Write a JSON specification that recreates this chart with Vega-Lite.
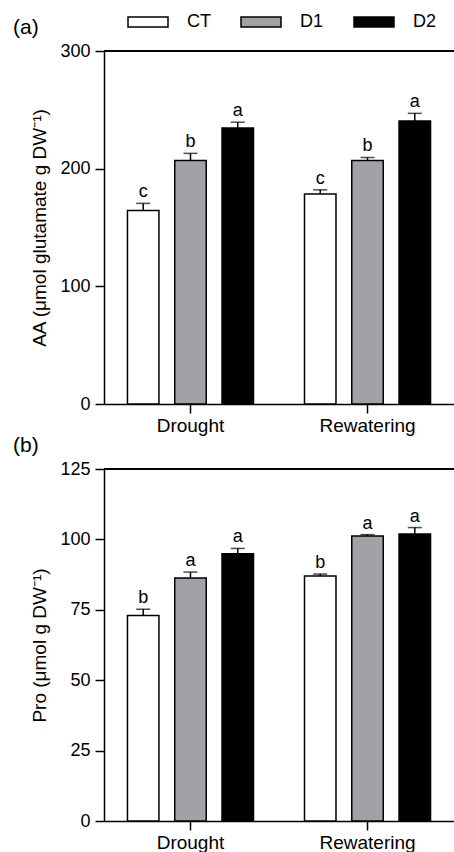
{
  "$schema": "https://vega.github.io/schema/vega-lite/v6.json",
  "padding": {"left": 13, "top": 1, "right": 0, "bottom": 0},
  "background": "white",
  "spacing": 0,
  "config": {
    "font": "Liberation Sans",
    "view": {"stroke": null},
    "axis": {
      "domainColor": "black", "domainWidth": 1.5, "tickColor": "black", "tickWidth": 1.5, "tickSize": 9,
      "labelColor": "black", "labelFontSize": 18, "titleColor": "black", "titleFontSize": 19,
      "titleFontWeight": "normal", "grid": false, "labelFont": "Liberation Sans", "titleFont": "Liberation Sans"
    },
    "title": {"font": "Liberation Sans", "fontSize": 21, "fontWeight": "normal", "color": "black"}
  },
  "datasets": {
    "aa": [
      {"Period": "Drought", "Treatment": "CT", "Mean": 164.5, "Upper": 170.5, "Letter": "c"},
      {"Period": "Drought", "Treatment": "D1", "Mean": 207, "Upper": 213, "Letter": "b"},
      {"Period": "Drought", "Treatment": "D2", "Mean": 234.5, "Upper": 239.5, "Letter": "a"},
      {"Period": "Rewatering", "Treatment": "CT", "Mean": 178.5, "Upper": 182, "Letter": "c"},
      {"Period": "Rewatering", "Treatment": "D1", "Mean": 207, "Upper": 209.5, "Letter": "b"},
      {"Period": "Rewatering", "Treatment": "D2", "Mean": 240.5, "Upper": 247, "Letter": "a"}
    ],
    "pro": [
      {"Period": "Drought", "Treatment": "CT", "Mean": 73, "Upper": 75.2, "Letter": "b"},
      {"Period": "Drought", "Treatment": "D1", "Mean": 86.3, "Upper": 88.4, "Letter": "a"},
      {"Period": "Drought", "Treatment": "D2", "Mean": 94.9, "Upper": 96.8, "Letter": "a"},
      {"Period": "Rewatering", "Treatment": "CT", "Mean": 87, "Upper": 87.7, "Letter": "b"},
      {"Period": "Rewatering", "Treatment": "D1", "Mean": 101.2, "Upper": 101.7, "Letter": "a"},
      {"Period": "Rewatering", "Treatment": "D2", "Mean": 101.9, "Upper": 104.2, "Letter": "a"}
    ]
  },
  "vconcat": [
    {
      "title": {"text": "(a)", "anchor": "start", "frame": "group", "dx": -91, "offset": -13, "baseline": "alphabetic"},
      "width": 350,
      "height": 353,
      "data": {"name": "aa"},
      "layer": [
        {
          "mark": {"type": "bar", "stroke": "black", "strokeWidth": 1.5},
          "encoding": {
            "x": {"field": "Period", "type": "nominal", "sort": ["Drought", "Rewatering"], "scale": {"paddingInner": 0.288, "paddingOuter": 0.1325}, "axis": {"title": null, "labelAngle": 0, "labelFontSize": 19, "labelPadding": 3}},
            "xOffset": {"field": "Treatment", "type": "nominal", "sort": ["CT", "D1", "D2"], "scale": {"paddingInner": 0.334, "paddingOuter": 0}},
            "y": {"field": "Mean", "type": "quantitative", "scale": {"domain": [0, 300], "nice": false}, "axis": {"values": [0, 100, 200, 300], "title": "AA (μmol glutamate g DW⁻¹)", "titlePadding": 10, "labelPadding": 5}},
            "color": {"field": "Treatment", "type": "nominal", "scale": {"domain": ["CT", "D1", "D2"], "range": ["#ffffff", "#a2a1a6", "#000000"]},
              "legend": {"orient": "none", "direction": "horizontal", "columns": 3, "legendX": 23, "legendY": -50, "title": null,
                "symbolType": "M-1,-0.25L1,-0.25L1,0.25L-1,0.25Z", "symbolSize": 1600, "symbolStrokeColor": "black", "symbolStrokeWidth": 1.5,
                "labelFontSize": 18, "labelColor": "black", "labelOffset": 18, "columnPadding": 27, "symbolOpacity": 1, "labelLimit": 100}}
          }
        },
        {
          "mark": {"type": "rule", "color": "black", "strokeWidth": 1.5},
          "encoding": {
            "x": {"field": "Period", "type": "nominal", "sort": ["Drought", "Rewatering"]},
            "xOffset": {"field": "Treatment", "type": "nominal", "sort": ["CT", "D1", "D2"]},
            "y": {"field": "Mean", "type": "quantitative"},
            "y2": {"field": "Upper"}
          }
        },
        {
          "mark": {"type": "tick", "color": "black", "thickness": 1.5, "size": 14},
          "encoding": {
            "x": {"field": "Period", "type": "nominal", "sort": ["Drought", "Rewatering"]},
            "xOffset": {"field": "Treatment", "type": "nominal", "sort": ["CT", "D1", "D2"]},
            "y": {"field": "Upper", "type": "quantitative"}
          }
        },
        {
          "mark": {"type": "text", "baseline": "alphabetic", "dy": -6, "fontSize": 18, "color": "black"},
          "encoding": {
            "x": {"field": "Period", "type": "nominal", "sort": ["Drought", "Rewatering"]},
            "xOffset": {"field": "Treatment", "type": "nominal", "sort": ["CT", "D1", "D2"]},
            "y": {"field": "Upper", "type": "quantitative"},
            "text": {"field": "Letter"}
          }
        },
        {
          "mark": {"type": "rule", "color": "black", "strokeWidth": 1.5},
          "encoding": {"y": {"datum": 300}}
        }
      ]
    },
    {
      "title": {"text": "(b)", "anchor": "start", "frame": "group", "dx": -91, "offset": -13, "baseline": "alphabetic"},
      "width": 350,
      "height": 352,
      "data": {"name": "pro"},
      "layer": [
        {
          "mark": {"type": "bar", "stroke": "black", "strokeWidth": 1.5},
          "encoding": {
            "x": {"field": "Period", "type": "nominal", "sort": ["Drought", "Rewatering"], "scale": {"paddingInner": 0.288, "paddingOuter": 0.1325}, "axis": {"title": null, "labelAngle": 0, "labelFontSize": 19, "labelPadding": 3}},
            "xOffset": {"field": "Treatment", "type": "nominal", "sort": ["CT", "D1", "D2"], "scale": {"paddingInner": 0.334, "paddingOuter": 0}},
            "y": {"field": "Mean", "type": "quantitative", "scale": {"domain": [0, 125], "nice": false}, "axis": {"values": [0, 25, 50, 75, 100, 125], "title": "Pro (μmol g DW⁻¹)", "titlePadding": 10, "labelPadding": 5}},
            "color": {"field": "Treatment", "type": "nominal", "scale": {"domain": ["CT", "D1", "D2"], "range": ["#ffffff", "#a2a1a6", "#000000"]}}
          }
        },
        {
          "mark": {"type": "rule", "color": "black", "strokeWidth": 1.5},
          "encoding": {
            "x": {"field": "Period", "type": "nominal", "sort": ["Drought", "Rewatering"]},
            "xOffset": {"field": "Treatment", "type": "nominal", "sort": ["CT", "D1", "D2"]},
            "y": {"field": "Mean", "type": "quantitative"},
            "y2": {"field": "Upper"}
          }
        },
        {
          "mark": {"type": "tick", "color": "black", "thickness": 1.5, "size": 14},
          "encoding": {
            "x": {"field": "Period", "type": "nominal", "sort": ["Drought", "Rewatering"]},
            "xOffset": {"field": "Treatment", "type": "nominal", "sort": ["CT", "D1", "D2"]},
            "y": {"field": "Upper", "type": "quantitative"}
          }
        },
        {
          "mark": {"type": "text", "baseline": "alphabetic", "dy": -6, "fontSize": 18, "color": "black"},
          "encoding": {
            "x": {"field": "Period", "type": "nominal", "sort": ["Drought", "Rewatering"]},
            "xOffset": {"field": "Treatment", "type": "nominal", "sort": ["CT", "D1", "D2"]},
            "y": {"field": "Upper", "type": "quantitative"},
            "text": {"field": "Letter"}
          }
        },
        {
          "mark": {"type": "rule", "color": "black", "strokeWidth": 1.5},
          "encoding": {"y": {"datum": 125}}
        }
      ]
    }
  ]
}
